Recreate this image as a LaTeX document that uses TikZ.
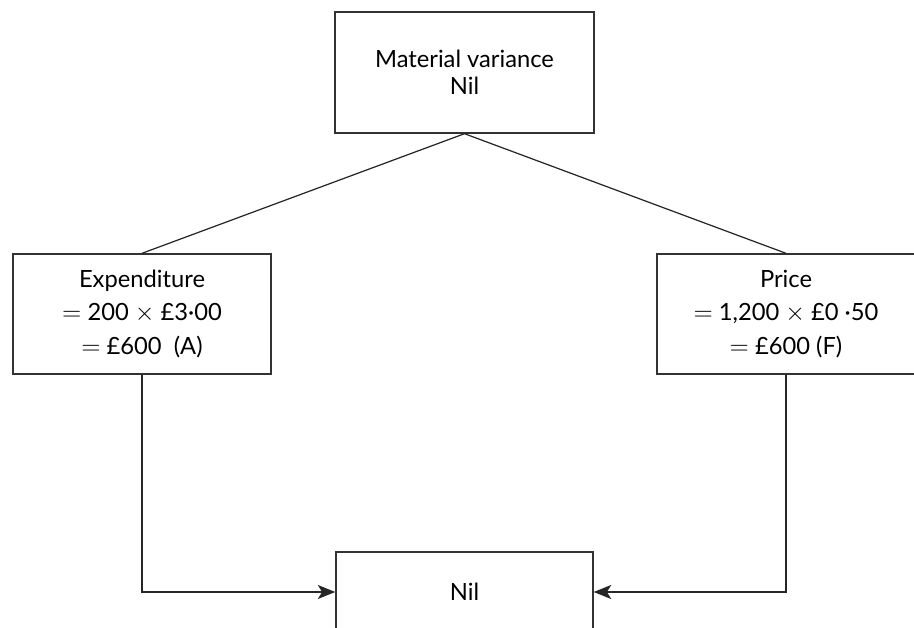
\documentclass[tikz,border=0pt]{standalone}
\usepackage{fontspec}
\setmainfont{Lato}
\usetikzlibrary{arrows.meta}

\begin{document}
\begin{tikzpicture}[
    x=0.02cm, y=-0.02cm,
    varbox/.style={rectangle, draw=black!80, line width=0.8pt, align=center,
        inner sep=0pt, minimum width=5.16cm, minimum height=2.4cm,
        font=\fontsize{13.5}{19}\selectfont},
    link/.style={draw=black!85, line width=0.7pt},
    flow/.style={link, -{Stealth[length=10pt, width=8pt, inset=2.5pt]}}
]
    \useasboundingbox (0,0) rectangle (914,628);
    \clip (0,0) rectangle (914,628);

    % Total variance
    \node[varbox, minimum width=5.18cm, minimum height=2.42cm,
        font=\fontsize{13.5}{15.3}\selectfont] (matvar) at (464.5,72.5)
        {Material variance\\Nil};

    % Sub-variances
    \node[varbox] (expend) at (142,314)
        {Expenditure\\$=$ 200 $\times$ £3·00\\$=$ £600\ \ (A)};
    \node[varbox] (price) at (786,314)
        {Price\\$=$ 1,200 $\times$ £0 ·50\\$=$ £600 (F)};

    % Net result
    \node[varbox, minimum width=5.14cm, minimum height=1.6cm] (nil) at (464.5,592) {Nil};

    % Lines
    \draw[link] (matvar.south) -- (expend.north);
    \draw[link] (matvar.south) -- (price.north);
    \draw[flow] (expend.south) |- (nil.west);
    \draw[flow] (price.south) |- (nil.east);
\end{tikzpicture}
\end{document}
